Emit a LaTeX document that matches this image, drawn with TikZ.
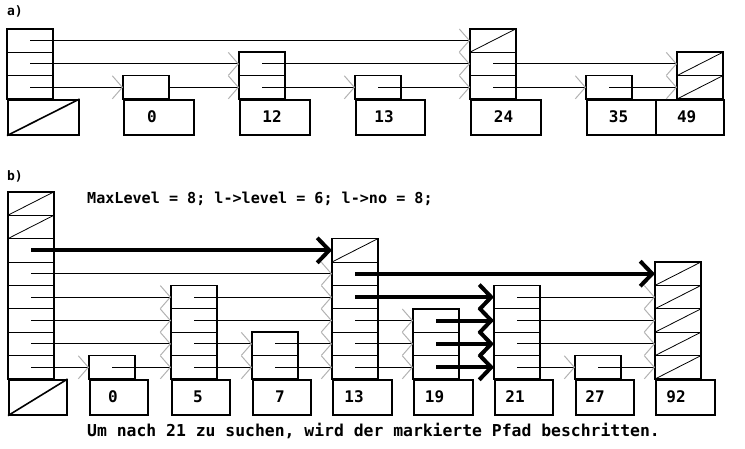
\documentclass[tikz,border=0pt]{standalone}
\usepackage{fontspec}
\setmonofont{DejaVu Sans Mono}
\usetikzlibrary{arrows.meta,calc}

\newcommand{\rh}{23.4}
\newcommand{\basey}{99}
% name, column x, levels, key x, key width, label x, label
\newcommand{\skipnode}[7]{%
	\node[keybox, minimum width=#5pt] (#1) at (#4,\basey) {};
	\node[keytext] (#1-key) at (#6,\basey+17.5) {#7};
	\foreach \l in {1,...,#3}
	{
		\coordinate (#1-\l) at (#2+23,\basey-\l*\rh+0.5*\rh);
		\coordinate (#1-in\l) at (#2,\basey-\l*\rh+0.5*\rh);
		\draw[sep] (#2,\basey-\l*\rh) -- ++(46,0);
	}
	\draw[cellbox] (#2,\basey) rectangle (#2+46,\basey-#3*\rh);
}
\newcommand{\nilcell}[2]{\draw[nil] ($(#1-in#2)+(0,0.5*\rh)$) -- ++(46,-\rh);}

\tikzset{
	cellbox/.style={line width=1.6pt},
	sep/.style={line width=0.8pt},
	keybox/.style={draw, line width=1.6pt, minimum height=35pt, inner sep=0pt, anchor=north west},
	keytext/.style={font=\ttfamily\bfseries\fontsize{16}{16}\selectfont},
	nil/.style={line width=0.8pt},
	ptr/.style={line width=0.9pt, -{Straight Barb[length=10pt,width=23pt,line width=1pt,color=gray!60]}},
	marked/.style={line width=4pt, -{Straight Barb[length=12pt,width=25pt,line width=4pt]}},
}

\begin{document}
\begin{tikzpicture}[x=1pt,y=-1pt]
	\useasboundingbox (0,0) rectangle (745,448);
	\node[font=\ttfamily\bfseries\fontsize{13}{13}\selectfont] (parta) at (15,11) {a)};
	\node[font=\ttfamily\bfseries\fontsize{13}{13}\selectfont] (partb) at (15,176) {b)};

	% a)
	\skipnode{ha}{7}{3}{7}{71}{0}{}
	\draw[line width=1.6pt] (ha.south west) -- (ha.north east);
	\foreach \nm/\cx/\lv/\kx/\kw/\lx/\lab in {a0/123/1/123/70/152/0, a12/239/2/239/70/272/12, a13/355/1/355/69/384/13, a24/470/3/470/70/503.5/24, a35/586/1/586/69/618.5/35, a49/677/2/655/68/686.7/49}
	{
		\skipnode{\nm}{\cx}{\lv}{\kx}{\kw}{\lx}{\lab}
	}
	\nilcell{a24}{3}
	\nilcell{a49}{1}
	\nilcell{a49}{2}
	\foreach \s/\t/\l in {ha/a24/3, ha/a12/2, a12/a24/2, a24/a49/2, ha/a0/1, a12/a13/1, a13/a24/1, a24/a35/1, a35/a49/1}
	{
		\draw[ptr] (\s-\l) -- (\t-in\l);
	}
	\draw[ptr] ($(a0-1)+(23,0)$) -- (a12-in1);

	% b)
	\renewcommand{\basey}{379}
	\node[anchor=west, inner sep=0pt, font=\ttfamily\bfseries\fontsize{15.1}{15.1}\selectfont] (info) at (87,199) {MaxLevel = 8; l->level = 6; l->no = 8;};
	\skipnode{hb}{8}{8}{8}{58}{0}{}
	\draw[line width=1.6pt] (hb.south west) -- (hb.north east);
	\foreach \nm/\cx/\lv/\kw/\lx/\lab in {b0/89/1/58/113/0, b5/171/4/58/198/5, b7/252/2/58/280/7, b13/332/6/59/354/13, b19/413/3/59/434.5/19, b21/494/4/58/515/21, b27/575/1/58/595/27, b92/655/5/59/676/92}
	{
		\skipnode{\nm}{\cx}{\lv}{\cx}{\kw}{\lx}{\lab}
	}
	\nilcell{hb}{7}
	\nilcell{hb}{8}
	\nilcell{b13}{6}
	\foreach \l in {1,...,5}
		\nilcell{b92}{\l};
	\foreach \s/\t/\l in {hb/b13/5, hb/b5/4, b5/b13/4, b21/b92/4, hb/b5/3, b5/b13/3, b13/b19/3, b21/b92/3,
		hb/b5/2, b5/b7/2, b7/b13/2, b13/b19/2, b21/b92/2,
		hb/b0/1, b0/b5/1, b5/b7/1, b7/b13/1, b13/b19/1, b21/b27/1, b27/b92/1}
	{
		\draw[ptr] (\s-\l) -- (\t-in\l);
	}
	% markierter Pfad
	\foreach \s/\t/\l in {hb/b13/6, b13/b92/5, b13/b21/4, b19/b21/3, b19/b21/2, b19/b21/1}
	{
		\draw[marked] (\s-\l) -- (\t-in\l);
	}
	\node[anchor=west, inner sep=0pt, font=\ttfamily\bfseries\fontsize{16.4}{16.4}\selectfont] (caption) at (87,431) {Um nach 21 zu suchen, wird der markierte Pfad beschritten.};
\end{tikzpicture}
\end{document}
